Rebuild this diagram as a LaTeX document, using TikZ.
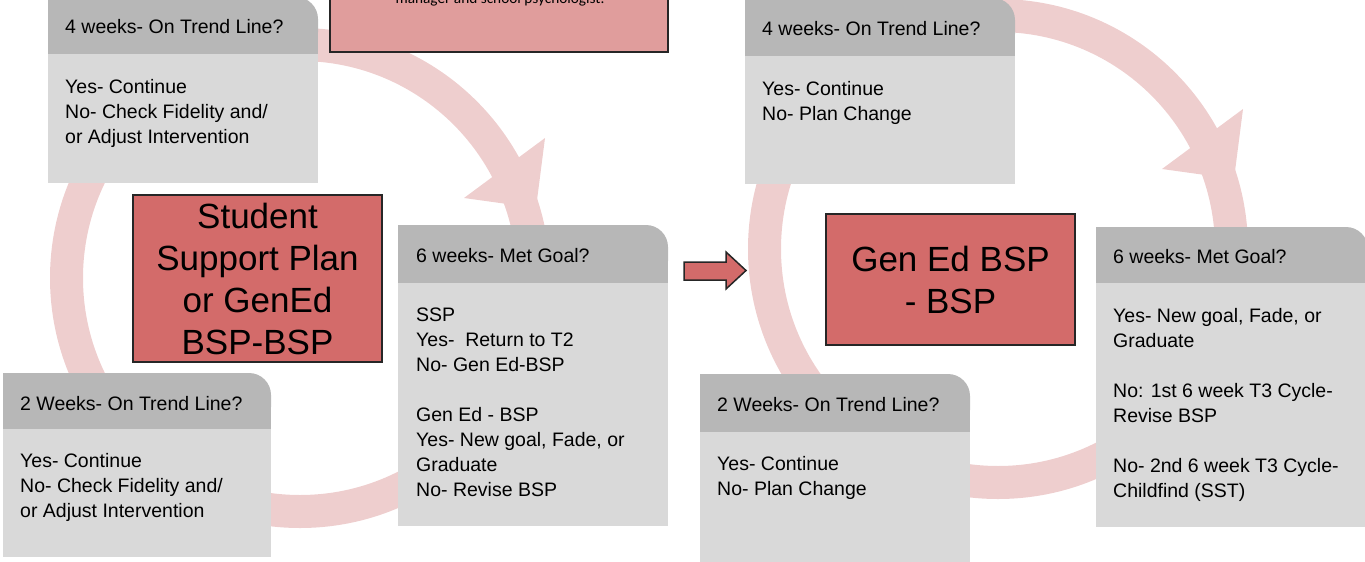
\documentclass[tikz,border=0pt]{standalone}
\usepackage{fontspec}
\setmainfont{Liberation Sans}
\newfontfamily\calib{Carlito}
\definecolor{ringc}{RGB}{238,206,206}
\definecolor{hdrc}{RGB}{183,183,183}
\definecolor{bodyc}{RGB}{217,217,217}
\definecolor{redc}{RGB}{211,107,106}
\definecolor{pinkc}{RGB}{224,157,156}
\newcommand\cardshape[5]{%
  \fill[hdrc,rounded corners=22pt] (#1,#2) rectangle (#3,#4);
  \fill[hdrc] (#1,#2) rectangle (#3-30,#4);
  \fill[hdrc] (#1,#2+30) rectangle (#3,#4);
  \fill[bodyc] (#1,#4) rectangle (#3,#5);
}
\tikzset{
  txt/.style={anchor=base west, inner sep=0pt, font=\fontsize{19.5}{25}\selectfont, align=left},
  bigtxt/.style={font=\fontsize{35}{42}\selectfont, align=center, inner sep=0pt},
  redbox/.style={fill=redc, draw=black!85, line width=1.5pt},
  ringfill/.style={fill=ringc, even odd rule},
}
\begin{document}
\begin{tikzpicture}[x=1pt,y=-1pt]
\useasboundingbox (0,0) rectangle (1365,562);
% rings
\fill[ringfill] (300,278) circle (250pt) (300,278) circle (217pt);
\fill[ringc] (545,138) -- (464,198) -- (536,208) -- cycle;
\fill[ringfill] (998,249) circle (250pt) (998,249) circle (217pt);
\fill[ringc] (1243,109) -- (1162,169) -- (1234,179) -- cycle;
% top note box
\draw[fill=pinkc, draw=black!85, line width=1.5pt] (330,-20) rectangle (668,52);
\node[anchor=base, inner sep=0pt, font=\calib\fontsize{15.3}{18}\selectfont] (note) at (500,4) {manager and school psychologist.};
% left cycle cards (multi-line texts are placed by their last baseline)
\cardshape{48}{-3}{318}{54}{183}
\node[txt] (l4h) at (65,33) {4 weeks- On Trend Line?};
\node[txt] (l4b) at (65,143) {Yes- Continue\\No- Check Fidelity and/\\or Adjust Intervention};
\cardshape{398}{225}{668}{283}{526}
\node[txt] (l6h) at (416,262) {6 weeks- Met Goal?};
\node[txt] (l6b) at (416,496) {SSP\\Yes-\ \ Return to T2\\No- Gen Ed-BSP\\[25pt]Gen Ed - BSP\\Yes- New goal, Fade, or\\Graduate\\No- Revise BSP};
\cardshape{3}{373}{271}{429}{557}
\node[txt] (l2h) at (20,410) {2 Weeks- On Trend Line?};
\node[txt] (l2b) at (20,517) {Yes- Continue\\No- Check Fidelity and/\\or Adjust Intervention};
\node[redbox, minimum width=249pt, minimum height=167pt] (lred) at (257.5,278.5) {};
\node[bigtxt] (lredt) at (lred.center) {Student\\Support Plan\\or GenEd\\BSP-BSP};
% block arrow
\draw[redbox, line join=miter] (684,262) -- (726,262) -- (726,252) -- (746,270.5) -- (726,289) -- (726,280) -- (684,280) -- cycle;
% right cycle cards
\cardshape{745}{-2}{1015}{56}{184}
\node[txt] (r4h) at (762,35) {4 weeks- On Trend Line?};
\node[txt] (r4b) at (762,120) {Yes- Continue\\No- Plan Change};
\cardshape{1096}{227}{1368}{283}{527}
\node[txt] (r6h) at (1113,263) {6 weeks- Met Goal?};
\node[txt] (r6b) at (1113,497) {Yes- New goal, Fade, or\\Graduate\\[25pt]No: 1st 6 week T3 Cycle-\\Revise BSP\\[25pt]No- 2nd 6 week T3 Cycle-\\Childfind (SST)};
\cardshape{700}{374}{970}{432}{562}
\node[txt] (r2h) at (717,411) {2 Weeks- On Trend Line?};
\node[txt] (r2b) at (717,495) {Yes- Continue\\No- Plan Change};
\node[redbox, minimum width=249pt, minimum height=131pt] (rred) at (950.5,279.5) {};
\node[bigtxt] (rredt) at (rred.center) {Gen Ed BSP\\- BSP};
\end{tikzpicture}
\end{document}
